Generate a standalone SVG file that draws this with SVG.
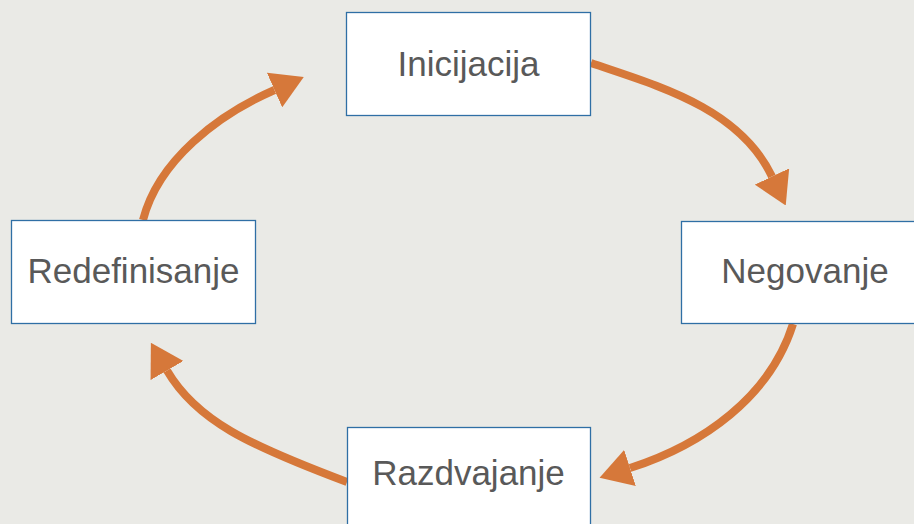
<svg xmlns="http://www.w3.org/2000/svg" width="914" height="524" viewBox="0 0 914 524">
<style>
.box{fill:#ffffff;stroke:#2f6fa5;stroke-width:1.3}
.lbl{font-family:"Liberation Sans",Arial,sans-serif;font-size:35px;fill:#595959;text-anchor:middle}
.arc{fill:none;stroke:#d6783a;stroke-width:8;marker-end:url(#head)}
</style>
<defs>
<marker id="head" markerUnits="userSpaceOnUse" viewBox="0 0 32 38" refX="0" refY="19" markerWidth="32" markerHeight="38" orient="auto">
<path d="M0,0 L32,19 L0,38 Z" fill="#d6783a"/>
</marker>
</defs>
<rect width="914" height="524" fill="#eaeae6"/>
<g id="connectors">
<path class="arc" d="M591,63 C655,85 739,107 772,176.5"/>
<path class="arc" d="M793,324 C770,397 703,444.5 630,468"/>
<path class="arc" d="M347,482 C248.7,445.1 196.2,420.6 167,370.5"/>
<path class="arc" d="M143,220 C158.5,160 217.8,115 274.5,90"/>
</g>
<g id="node-inicijacija">
<rect class="box" x="346.5" y="12.5" width="244" height="103"/>
<text class="lbl" x="468.5" y="76">Inicijacija</text>
</g>
<g id="node-negovanje">
<rect class="box" x="681.5" y="221.5" width="245" height="102"/>
<text class="lbl" x="805" y="283">Negovanje</text>
</g>
<g id="node-razdvajanje">
<rect class="box" x="347.5" y="427.5" width="243" height="104"/>
<text class="lbl" x="468.5" y="485">Razdvajanje</text>
</g>
<g id="node-redefinisanje">
<rect class="box" x="11.5" y="220.5" width="244" height="103"/>
<text class="lbl" x="133.5" y="283">Redefinisanje</text>
</g>
</svg>
